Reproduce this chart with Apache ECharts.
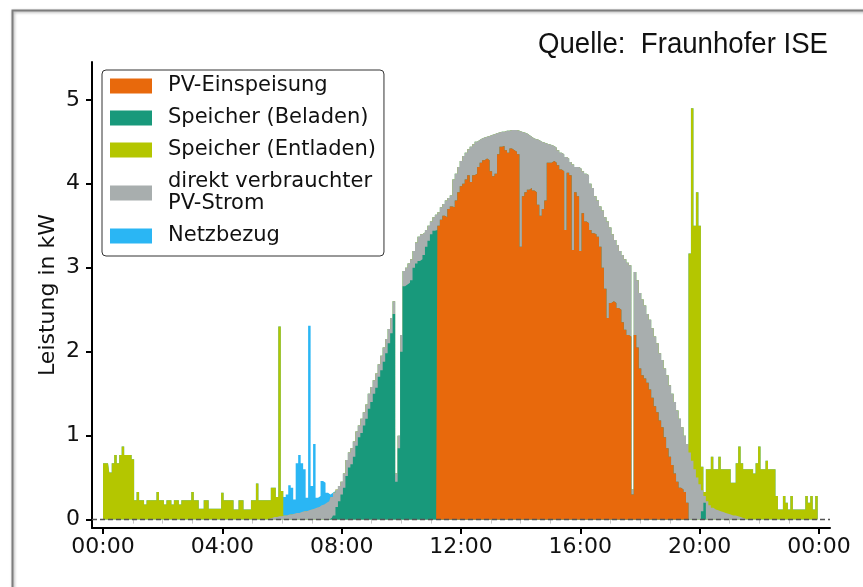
<!DOCTYPE html>
<html><head><meta charset="utf-8">
<script src="https://cdn.jsdelivr.net/npm/echarts@6.0.0/dist/echarts.min.js"></script>
<style>html,body{margin:0;padding:0;background:#fff}#c{width:863px;height:587px}</style>
</head><body><div id="c"></div>
<script>
// ---- axis ticks / labels ----
const hourTicks = [0, 4, 8, 12, 16, 20, 24];
const tickLabels = ['00:00', '04:00', '08:00', '12:00', '16:00', '20:00', '00:00'];
const minorTicks = [1, 2, 3, 5, 6, 7, 9, 10, 11, 13, 14, 15, 17, 18, 19, 21, 22, 23];
const yTicks = [0, 1, 2, 3, 4, 5];
const seriesNames = ['PV-Einspeisung', 'Speicher (Beladen)', 'Speicher (Entladen)', 'direkt verbrauchter\nPV-Strom', 'Netzbezug'];
const STEP_MIN = 5; // one value every 5 minutes, 00:00 ... 24:00

// ---- series values (kW), one row per hour, 12 values per row ----
const einspeisung = [
/*00*/0,0,0,0,0,0,0,0,0,0,0,0,
/*01*/0,0,0,0,0,0,0,0,0,0,0,0,
/*02*/0,0,0,0,0,0,0,0,0,0,0,0,
/*03*/0,0,0,0,0,0,0,0,0,0,0,0,
/*04*/0,0,0,0,0,0,0,0,0,0,0,0,
/*05*/0,0,0,0,0,0,0,0,0,0,0,0,
/*06*/0,0,0,0,0,0,0,0,0,0,0,0,
/*07*/0,0,0,0,0,0,0,0,0,0,0,0,
/*08*/0,0,0,0,0,0,0,0,0,0,0,0,
/*09*/0,0,0,0,0,0,0,0,0,0,0,0,
/*10*/0,0,0,0,0,0,0,0,0,0,0,0,
/*11*/0,0,0,3.5,3.57,3.62,3.6,3.7,3.73,3.72,3.8,3.9,
/*12*/3.97,4.0,4.05,4.1,4.02,4.1,4.12,4.2,4.25,4.28,4.3,4.28,
/*13*/4.15,4.09,4.12,4.35,4.44,4.45,4.4,4.37,4.42,4.4,4.38,4.35,
/*14*/3.25,3.85,3.9,3.93,3.95,3.92,3.9,3.75,3.62,3.7,3.8,4.25,
/*15*/4.25,4.27,4.25,4.22,4.17,4.15,3.45,4.13,4.1,3.21,3.9,3.85,
/*16*/3.2,3.65,3.55,3.53,3.45,3.41,3.4,3.37,3.25,3.0,2.75,2.4,
/*17*/2.58,2.6,2.58,2.52,2.5,2.35,2.26,2.2,2.18,0.3,2.2,2.05,
/*18*/1.8,1.72,1.68,1.63,1.55,1.45,1.35,1.28,1.18,1.1,0.98,0.85,
/*19*/0.75,0.65,0.55,0.45,0.38,0.36,0.33,0.2,0,0,0,0,
/*20*/0,0,0,0,0,0,0,0,0,0,0,0,
/*21*/0,0,0,0,0,0,0,0,0,0,0,0,
/*22*/0,0,0,0,0,0,0,0,0,0,0,0,
/*23*/0,0,0,0,0,0,0,0,0,0,0,0,
/*24*/0];

const beladen = [
/*00*/0,0,0,0,0,0,0,0,0,0,0,0,
/*01*/0,0,0,0,0,0,0,0,0,0,0,0,
/*02*/0,0,0,0,0,0,0,0,0,0,0,0,
/*03*/0,0,0,0,0,0,0,0,0,0,0,0,
/*04*/0,0,0,0,0,0,0,0,0,0,0,0,
/*05*/0,0,0,0,0,0,0,0,0,0,0,0,
/*06*/0,0,0,0,0,0,0,0,0,0,0,0,
/*07*/0,0,0,0,0,0,0,0,0.02,0.05,0.15,0.22,
/*08*/0.3,0.38,0.52,0.62,0.66,0.75,0.88,0.98,1.03,1.12,1.2,1.32,
/*09*/1.4,1.5,1.57,1.7,1.78,1.88,1.98,2.1,2.22,2.45,0.45,0.85,
/*10*/2.0,2.78,2.8,2.82,2.85,3.0,3.05,3.08,3.1,3.15,3.25,3.32,
/*11*/3.4,3.44,3.45,0,0,0,0,0,0,0,0,0,
/*12*/0,0,0,0,0,0,0,0,0,0,0,0,
/*13*/0,0,0,0,0,0,0,0,0,0,0,0,
/*14*/0,0,0,0,0,0,0,0,0,0,0,0,
/*15*/0,0,0,0,0,0,0,0,0,0,0,0,
/*16*/0,0,0,0,0,0,0,0,0,0,0,0,
/*17*/0,0,0,0,0,0,0,0,0,0,0,0,
/*18*/0,0,0,0,0,0,0,0,0,0,0,0,
/*19*/0,0,0,0,0,0,0,0,0,0,0,0,
/*20*/0,0.1,0.2,0,0,0,0,0,0,0,0,0,
/*21*/0,0,0,0,0,0,0,0,0,0,0,0,
/*22*/0,0,0,0,0,0,0,0,0,0,0,0,
/*23*/0,0,0,0,0,0,0,0,0,0,0,0,
/*24*/0];

const direkt = [
/*00*/0,0,0,0,0,0,0,0,0,0,0,0,
/*01*/0,0,0,0,0,0,0,0,0,0,0,0,
/*02*/0,0,0,0,0,0,0,0,0,0,0,0,
/*03*/0,0,0,0,0,0,0,0,0,0,0,0,
/*04*/0,0,0,0,0,0,0,0,0,0,0,0,
/*05*/0,0,0,0,0,0,0,0.01,0.02,0.03,0.03,0.04,
/*06*/0.04,0.05,0.05,0.06,0.06,0.07,0.08,0.08,0.09,0.1,0.1,0.11,
/*07*/0.12,0.13,0.14,0.15,0.17,0.18,0.2,0.22,0.25,0.27,0.21,0.18,
/*08*/0.15,0.17,0.19,0.18,0.19,0.18,0.17,0.14,0.17,0.16,0.17,0.18,
/*09*/0.18,0.16,0.17,0.15,0.17,0.17,0.17,0.17,0.18,0.15,0.1,0.15,
/*10*/0.2,0.18,0.2,0.23,0.25,0.2,0.25,0.29,0.3,0.27,0.2,0.18,
/*11*/0.15,0.16,0.18,0.16,0.15,0.14,0.2,0.13,0.13,0.33,0.32,0.3,
/*12*/0.3,0.33,0.32,0.31,0.42,0.37,0.38,0.32,0.29,0.27,0.26,0.29,
/*13*/0.43,0.5,0.48,0.26,0.18,0.17,0.23,0.26,0.22,0.24,0.26,0.28,
/*14*/1.37,0.76,0.7,0.65,0.61,0.62,0.63,0.77,0.88,0.79,0.68,0.22,
/*15*/0.21,0.18,0.18,0.18,0.2,0.2,0.87,0.17,0.16,1.02,0.3,0.35,
/*16*/0.98,0.5,0.57,0.57,0.55,0.54,0.45,0.43,0.48,0.68,0.85,1.15,
/*17*/0.9,0.8,0.75,0.75,0.7,0.8,0.84,0.86,0.85,0.06,0.75,0.8,
/*18*/0.9,0.9,0.87,0.82,0.83,0.83,0.83,0.82,0.8,0.8,0.82,0.87,
/*19*/0.85,0.85,0.85,0.85,0.82,0.74,0.67,0.7,0.8,0.7,0.6,0.5,
/*20*/0.42,0.25,0.08,0.22,0.17,0.14,0.12,0.11,0.1,0.09,0.08,0.07,
/*21*/0.06,0.05,0.05,0.04,0.03,0.02,0.01,0,0,0,0,0,
/*22*/0,0,0,0,0,0,0,0,0,0,0,0,
/*23*/0,0,0,0,0,0,0,0,0,0,0,0,
/*24*/0];

const entladen = [
/*00*/0.67,0.67,0.67,0.56,0.67,0.77,0.67,0.77,0.87,0.77,0.77,0.77,
/*01*/0.72,0.23,0.33,0.23,0.23,0.18,0.23,0.23,0.23,0.23,0.33,0.23,
/*02*/0.23,0.18,0.23,0.23,0.18,0.23,0.23,0.18,0.23,0.23,0.23,0.23,
/*03*/0.33,0.23,0.23,0.13,0.13,0.23,0.23,0.13,0.13,0.13,0.13,0.13,
/*04*/0.32,0.23,0.23,0.23,0.23,0.12,0.12,0.23,0.23,0.12,0.12,0.12,
/*05*/0.23,0.23,0.43,0.23,0.23,0.23,0.23,0.22,0.36,0.35,0.24,2.26,
/*06*/0.3,0,0,0,0,0,0,0,0,0,0,0,
/*07*/0,0,0,0,0,0,0,0,0,0,0,0,
/*08*/0,0,0,0,0,0,0,0,0,0,0,0,
/*09*/0,0,0,0,0,0,0,0,0,0,0,0,
/*10*/0,0,0,0,0,0,0,0,0,0,0,0,
/*11*/0,0,0,0,0,0,0,0,0,0,0,0,
/*12*/0,0,0,0,0,0,0,0,0,0,0,0,
/*13*/0,0,0,0,0,0,0,0,0,0,0,0,
/*14*/0,0,0,0,0,0,0,0,0,0,0,0,
/*15*/0,0,0,0,0,0,0,0,0,0,0,0,
/*16*/0,0,0,0,0,0,0,0,0,0,0,0,
/*17*/0,0,0,0,0,0,0,0,0,0,0,0,
/*18*/0,0,0,0,0,0,0,0,0,0,0,0,
/*19*/0,0,0,0,0,0,0,0,2.37,4.2,2.9,3.4,
/*20*/3.08,0.28,0.05,0.38,0.43,0.61,0.48,0.49,0.65,0.51,0.52,0.53,
/*21*/0.54,0.39,0.39,0.63,0.84,0.65,0.59,0.6,0.6,0.6,0.55,0.67,
/*22*/0.87,0.6,0.6,0.7,0.6,0.6,0.6,0.28,0.12,0.12,0.28,0.2,
/*23*/0.12,0.28,0.12,0.12,0.12,0.12,0.12,0.28,0.2,0.28,0.12,0.28,
/*24*/0];

const netzbezug = [
/*00*/0,0,0,0,0,0,0,0,0,0,0,0,
/*01*/0,0,0,0,0,0,0,0,0,0,0,0,
/*02*/0,0,0,0,0,0,0,0,0,0,0,0,
/*03*/0,0,0,0,0,0,0,0,0,0,0,0,
/*04*/0,0,0,0,0,0,0,0,0,0,0,0,
/*05*/0,0,0,0,0,0,0,0,0,0,0,0,
/*06*/0,0.22,0.25,0.35,0.32,0.17,0.59,0.69,0.58,0.5,0.16,2.2,
/*07*/0.28,0.77,0.12,0.13,0.29,0.26,0.12,0.08,0.05,0.02,0,0,
/*08*/0,0,0,0,0,0,0,0,0,0,0,0,
/*09*/0,0,0,0,0,0,0,0,0,0,0,0,
/*10*/0,0,0,0,0,0,0,0,0,0,0,0,
/*11*/0,0,0,0,0,0,0,0,0,0,0,0,
/*12*/0,0,0,0,0,0,0,0,0,0,0,0,
/*13*/0,0,0,0,0,0,0,0,0,0,0,0,
/*14*/0,0,0,0,0,0,0,0,0,0,0,0,
/*15*/0,0,0,0,0,0,0,0,0,0,0,0,
/*16*/0,0,0,0,0,0,0,0,0,0,0,0,
/*17*/0,0,0,0,0,0,0,0,0,0,0,0,
/*18*/0,0,0,0,0,0,0,0,0,0,0,0,
/*19*/0,0,0,0,0,0,0,0,0,0,0,0,
/*20*/0,0,0,0,0,0,0,0,0,0,0,0,
/*21*/0,0,0,0,0,0,0,0,0,0,0,0,
/*22*/0,0,0,0,0,0,0,0,0,0,0,0,
/*23*/0,0,0,0,0,0,0,0,0,0,0,0,
/*24*/0];

// ---- build ----
const times = einspeisung.map((_, i) => i * STEP_MIN / 60); // hours since 00:00
const X_MIN = -0.37, X_MAX = 24.37;
const colors = ['#E8690C', '#18997B', '#A8AEAE', '#B4C600', '#2AB6F4'];
// stacking order from the bottom: Einspeisung, Beladen, direkt, Entladen, Netzbezug
const stackOrder = [
  { name: seriesNames[0], values: einspeisung, color: colors[0] },
  { name: seriesNames[1], values: beladen, color: colors[1] },
  { name: seriesNames[3], values: direkt, color: colors[2] },
  { name: seriesNames[2], values: entladen, color: colors[3] },
  { name: seriesNames[4], values: netzbezug, color: colors[4] }
];
// cumulative tops; each layer is filled from 0 to its top, upper layers drawn first
const running = times.map(() => 0);
const layers = stackOrder.map(s => {
  const top = s.values.map((v, i) => (running[i] += v));
  return { name: s.name, color: s.color, top: top.slice() };
});
function areaSeries(layer) {
  return {
    name: layer.name, type: 'line', step: 'middle', z: 2,
    data: times.map((t, i) => [t, layer.top[i]]),
    symbol: 'none', showSymbol: false,
    lineStyle: { width: 0, opacity: 0 },
    itemStyle: { color: layer.color },
    areaStyle: { color: layer.color, opacity: 1, origin: 0 },
    emphasis: { disabled: true }, silent: true
  };
}
const FONT = '"DejaVu Sans", "Bitstream Vera Sans", sans-serif';

const chart = echarts.init(document.getElementById('c'), null, { renderer: 'canvas' });
chart.setOption({
  animation: false,
  backgroundColor: '#ffffff',
  grid: { left: 92, right: 33, top: 62, bottom: 59, containLabel: false },
  legend: {
    orient: 'vertical', left: 102, top: 70,
    data: [seriesNames[0], seriesNames[1], seriesNames[2], seriesNames[3], seriesNames[4]],
    icon: 'rect', itemWidth: 42, itemHeight: 15, itemGap: 10,
    textStyle: { fontFamily: FONT, fontSize: 21, color: '#111', lineHeight: 22, padding: [0, 0, 0, 11] },
    borderColor: '#333', borderWidth: 1, borderRadius: 4,
    padding: [5, 8, 9, 8], backgroundColor: '#ffffff', selectedMode: false
  },
  xAxis: [{
    type: 'value', min: X_MIN, max: X_MAX,
    axisLine: { show: true, onZero: false, lineStyle: { color: '#000', width: 2 } },
    axisTick: { show: true, customValues: hourTicks, length: 6, lineStyle: { color: '#000', width: 2 } },
    axisLabel: { show: true, customValues: hourTicks, margin: 8,
      formatter: v => tickLabels[hourTicks.indexOf(Math.round(v))],
      fontFamily: FONT, fontSize: 22, color: '#111' },
    splitLine: { show: false }
  }, {
    type: 'value', min: X_MIN, max: X_MAX, position: 'bottom',
    axisLine: { show: false },
    axisTick: { show: true, customValues: minorTicks, length: 4, lineStyle: { color: '#c8c8c8', width: 1 } },
    axisLabel: { show: false }, splitLine: { show: false }
  }],
  yAxis: {
    type: 'value', min: -0.1, max: 5.45,
    name: 'Leistung in kW', nameLocation: 'middle', nameGap: 33, nameRotate: 90,
    nameMoveOverlap: false,
    nameTextStyle: { fontFamily: FONT, fontSize: 22, color: '#111' },
    axisLine: { show: true, onZero: false, lineStyle: { color: '#000', width: 2 } },
    axisTick: { show: true, customValues: yTicks, length: 6, lineStyle: { color: '#000', width: 2 } },
    axisLabel: { show: true, customValues: yTicks, margin: 12, fontFamily: FONT, fontSize: 22, color: '#111' },
    splitLine: { show: false }
  },
  series: [
    areaSeries(layers[4]),
    areaSeries(layers[3]),
    areaSeries(layers[2]),
    areaSeries(layers[1]),
    areaSeries(layers[0]),
    {
      name: 'zero', type: 'line', z: 5, silent: true, symbol: 'none',
      data: [[X_MIN, 0], [X_MAX, 0]],
      lineStyle: { color: '#555', width: 1.5, type: [5, 3] }
    }
  ],
  graphic: [
    { type: 'text', x: 828, y: 45, scaleX: 0.92, silent: true,
      style: { text: 'Quelle:  Fraunhofer ISE', align: 'right', verticalAlign: 'middle',
        font: '30px "Liberation Sans", Arial, sans-serif', fill: '#111' } },
    { type: 'rect', left: 10, top: 8, z: 100, silent: true,
      shape: { width: 900, height: 620 },
      style: { fill: 'none', stroke: '#7d7d7d', lineWidth: 2, shadowBlur: 3, shadowColor: 'rgba(0,0,0,0.35)', shadowOffsetX: 1, shadowOffsetY: 1 } }
  ]
});
</script></body></html>
